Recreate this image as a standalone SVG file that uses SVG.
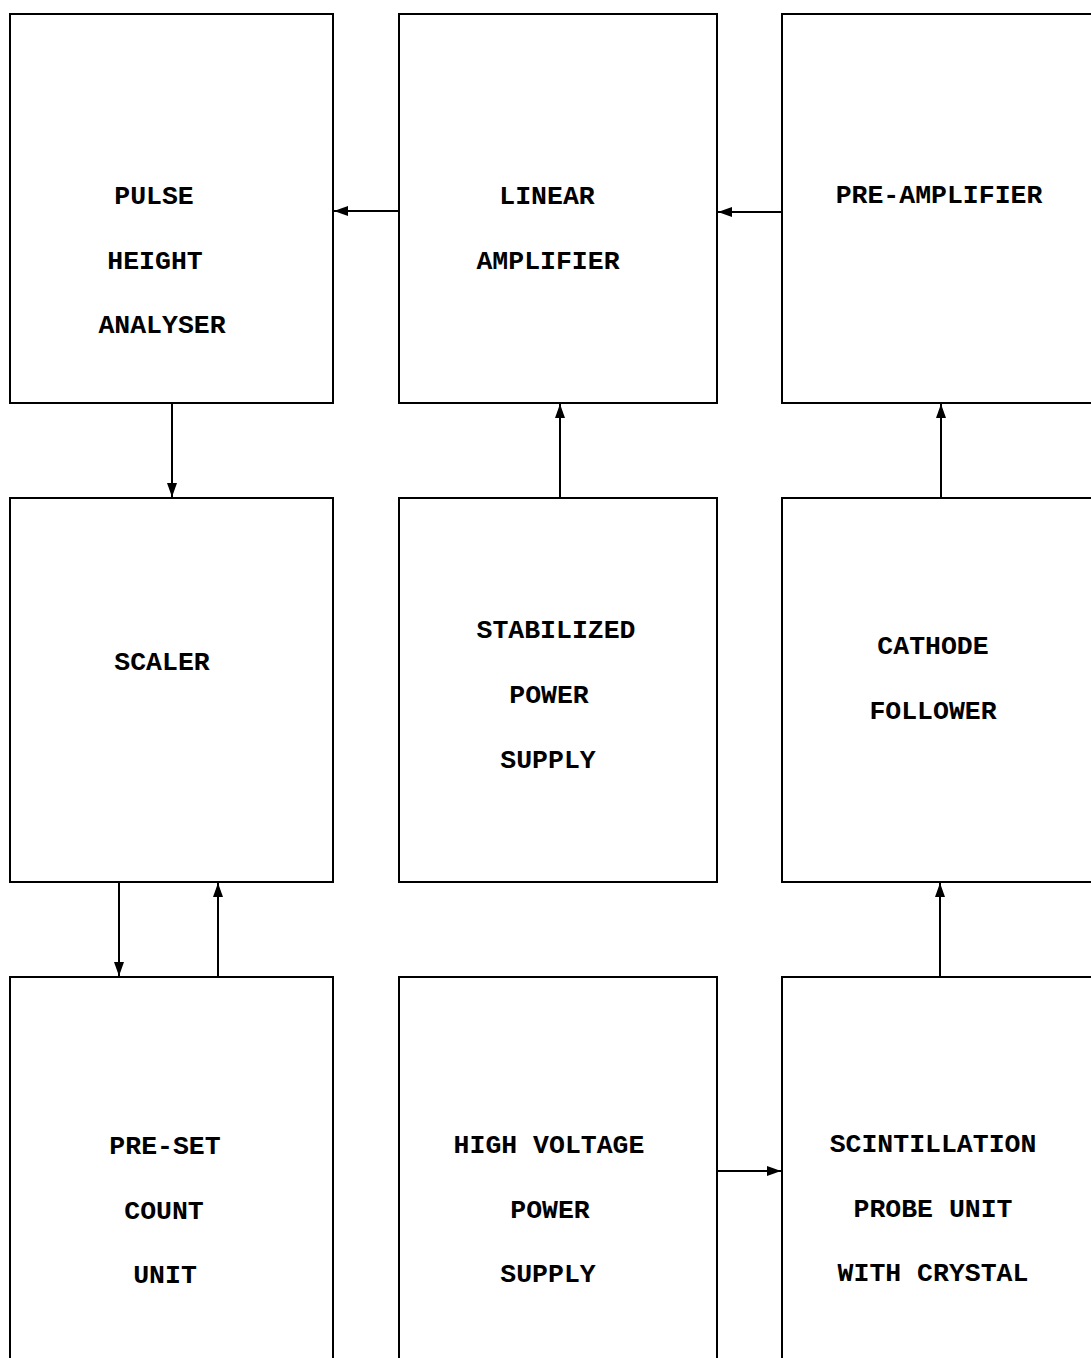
<svg xmlns="http://www.w3.org/2000/svg" width="1091" height="1358" viewBox="0 0 1091 1358">
<style>
.box{fill:none;stroke:#000;stroke-width:2}
.t{font-family:"Liberation Mono","DejaVu Sans Mono",monospace;font-weight:bold;font-size:26.5px;fill:#000;text-anchor:middle}
.c{stroke:#000;stroke-width:2;fill:none;marker-end:url(#ah)}
</style>
<defs>
<marker id="ah" viewBox="0 0 14 10" refX="14" refY="5" markerWidth="14" markerHeight="10" markerUnits="userSpaceOnUse" orient="auto">
<path d="M0,0 L14,5 L0,10 Z" fill="#000"/>
</marker>
</defs>
<rect width="1091" height="1358" fill="#fff"/>
<g id="pha"><rect class="box" x="10" y="14" width="323" height="389"/>
<text class="t" x="154" y="204">PULSE</text><text class="t" x="155" y="269">HEIGHT</text><text class="t" x="162" y="333">ANALYSER</text></g>
<g id="linear"><rect class="box" x="399" y="14" width="318" height="389"/>
<text class="t" x="547" y="204">LINEAR</text><text class="t" x="548" y="269">AMPLIFIER</text></g>
<g id="preamp"><rect class="box" x="782" y="14" width="320" height="389"/>
<text class="t" x="939" y="203">PRE-AMPLIFIER</text></g>
<g id="scaler"><rect class="box" x="10" y="498" width="323" height="384"/>
<text class="t" x="162" y="670">SCALER</text></g>
<g id="stab"><rect class="box" x="399" y="498" width="318" height="384"/>
<text class="t" x="556" y="638">STABILIZED</text><text class="t" x="549" y="703">POWER</text><text class="t" x="548" y="768">SUPPLY</text></g>
<g id="cathode"><rect class="box" x="782" y="498" width="320" height="384"/>
<text class="t" x="933" y="654">CATHODE</text><text class="t" x="933" y="719">FOLLOWER</text></g>
<g id="preset"><rect class="box" x="10" y="977" width="323" height="400"/>
<text class="t" x="165" y="1154">PRE-SET</text><text class="t" x="164" y="1219">COUNT</text><text class="t" x="165" y="1283">UNIT</text></g>
<g id="hv"><rect class="box" x="399" y="977" width="318" height="400"/>
<text class="t" x="549" y="1153">HIGH VOLTAGE</text><text class="t" x="550" y="1218">POWER</text><text class="t" x="548" y="1282">SUPPLY</text></g>
<g id="scint"><rect class="box" x="782" y="977" width="320" height="400"/>
<text class="t" x="933" y="1152">SCINTILLATION</text><text class="t" x="933" y="1217">PROBE UNIT</text><text class="t" x="933" y="1281">WITH CRYSTAL</text></g>
<g id="connectors">
<line class="c" x1="399" y1="211" x2="334" y2="211"/>
<line class="c" x1="782" y1="212" x2="718" y2="212"/>
<line class="c" x1="172" y1="403" x2="172" y2="497"/>
<line class="c" x1="560" y1="498" x2="560" y2="404"/>
<line class="c" x1="941" y1="498" x2="941" y2="404"/>
<line class="c" x1="119" y1="882" x2="119" y2="976"/>
<line class="c" x1="218" y1="977" x2="218" y2="883"/>
<line class="c" x1="940" y1="977" x2="940" y2="883"/>
<line class="c" x1="717" y1="1171" x2="781" y2="1171"/>
</g>
</svg>
